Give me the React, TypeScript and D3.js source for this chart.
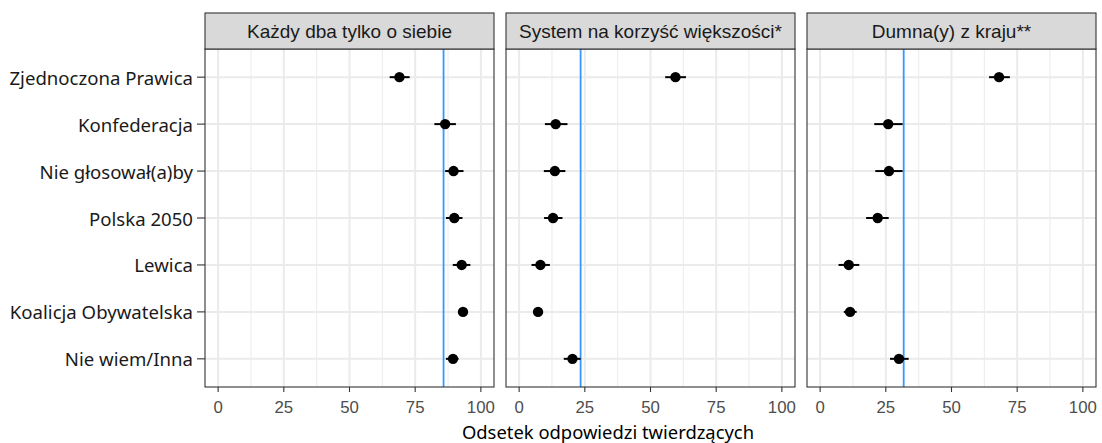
import React from "react";
import * as d3 from "d3";

// categories, top to bottom
const parties = [
  "Zjednoczona Prawica",
  "Konfederacja",
  "Nie głosował(a)by",
  "Polska 2050",
  "Lewica",
  "Koalicja Obywatelska",
  "Nie wiem/Inna",
];

const facets = ["Każdy dba tylko o siebie", "System na korzyść większości*", "Dumna(y) z kraju**"];

// estimate, lower, upper per party, one array per facet
const kazdyEst = [69.0, 86.4, 89.6, 89.9, 92.7, 93.2, 89.4];
const kazdyLo = [65.3, 82.3, 86.4, 86.7, 89.3, 91.8, 86.7];
const kazdyHi = [72.9, 90.5, 93.4, 93.0, 96.0, 94.6, 91.5];

const systemEst = [59.5, 13.9, 13.6, 12.9, 8.1, 7.2, 20.3];
const systemLo = [55.6, 9.8, 9.4, 9.5, 4.7, 5.8, 17.0];
const systemHi = [63.5, 18.4, 17.6, 16.5, 11.7, 8.6, 23.4];

const dumnaEst = [68.1, 25.9, 26.2, 21.9, 10.9, 11.4, 30.0];
const dumnaLo = [64.3, 20.6, 21.0, 17.5, 7.0, 9.0, 26.6];
const dumnaHi = [72.2, 31.4, 31.4, 26.1, 14.9, 13.9, 33.7];

// overall average (blue reference line) per facet
const refLines = [85.8, 23.4, 31.8];

const xTicks = [0, 25, 50, 75, 100];
const xMinor = [12.5, 37.5, 62.5, 87.5];

const seriesEst = [kazdyEst, systemEst, dumnaEst];
const seriesLo = [kazdyLo, systemLo, dumnaLo];
const seriesHi = [kazdyHi, systemHi, dumnaHi];

export default function App() {
  const W = 1102;
  const H = 443;
  const panelLeft = [205, 506, 807];
  const panelW = 289;
  const stripTop = 13;
  const stripBottom = 49;
  const panelBottom = 387;

  const y = d3
    .scalePoint<string>()
    .domain(parties)
    .range([stripBottom, panelBottom])
    .padding(0.6);

  const labelFont = "'Noto Sans', sans-serif";
  const tickFont = "'Liberation Sans', Arial, sans-serif";

  return (
    <svg width={W} height={H} style={{ position: "absolute", left: 0, top: 0 }}>
      <rect width={W} height={H} fill="#fff" />
      {/* y axis labels */}
      {parties.map((p) => (
        <g key={p}>
          <text
            x={193}
            y={y(p)}
            textAnchor="end"
            dominantBaseline="central"
            fontFamily={labelFont}
            fontSize={18.6}
            fill="#1a1a1a"
          >
            {p}
          </text>
          <line x1={197} x2={205} y1={y(p)} y2={y(p)} stroke="#333" strokeWidth={1.1} />
        </g>
      ))}
      {facets.map((f, i) => {
        const left = panelLeft[i];
        const x = d3.scaleLinear().domain([-5, 105]).range([left, left + panelW]);
        const est = seriesEst[i];
        const lo = seriesLo[i];
        const hi = seriesHi[i];
        return (
          <g key={f}>
            {/* grid */}
            {xMinor.map((t) => (
              <line key={"m" + t} x1={x(t)} x2={x(t)} y1={stripBottom} y2={panelBottom} stroke="#ebebeb" strokeWidth={1} />
            ))}
            {xTicks.map((t) => (
              <line key={"M" + t} x1={x(t)} x2={x(t)} y1={stripBottom} y2={panelBottom} stroke="#ebebeb" strokeWidth={2} />
            ))}
            {parties.map((p) => (
              <line key={"h" + p} x1={left} x2={left + panelW} y1={y(p)} y2={y(p)} stroke="#ebebeb" strokeWidth={2} />
            ))}
            {/* reference line */}
            <line
              x1={x(refLines[i])}
              x2={x(refLines[i])}
              y1={stripBottom}
              y2={panelBottom}
              stroke="#3399ff"
              strokeWidth={1.8}
            />
            {/* error bars and points */}
            {parties.map((p, j) => (
              <g key={"d" + p}>
                <line x1={x(lo[j])} x2={x(hi[j])} y1={y(p)} y2={y(p)} stroke="#000" strokeWidth={2} />
                <circle cx={x(est[j])} cy={y(p)} r={5.2} fill="#000" />
              </g>
            ))}
            {/* panel border */}
            <rect
              x={left}
              y={stripBottom}
              width={panelW}
              height={panelBottom - stripBottom}
              fill="none"
              stroke="#333"
              strokeWidth={1.1}
            />
            {/* strip */}
            <rect
              x={left}
              y={stripTop}
              width={panelW}
              height={stripBottom - stripTop}
              fill="#d9d9d9"
              stroke="#333"
              strokeWidth={1.1}
            />
            <text
              x={left + panelW / 2}
              y={(stripTop + stripBottom) / 2}
              textAnchor="middle"
              dominantBaseline="central"
              fontFamily={tickFont}
              fontSize={19}
              fill="#1a1a1a"
            >
              {f}
            </text>
            {/* x axis */}
            {xTicks.map((t) => (
              <g key={"t" + t}>
                <line x1={x(t)} x2={x(t)} y1={panelBottom} y2={panelBottom + 5} stroke="#333" strokeWidth={1.1} />
                <text
                  x={x(t)}
                  y={panelBottom + 20}
                  textAnchor="middle"
                  dominantBaseline="central"
                  fontFamily={tickFont}
                  fontSize={16.8}
                  fill="#4d4d4d"
                >
                  {t}
                </text>
              </g>
            ))}
          </g>
        );
      })}
      <text
        x={608}
        y={439}
        textAnchor="middle"
        fontFamily={labelFont}
        fontSize={18.4}
        fill="#000"
      >
        Odsetek odpowiedzi twierdzących
      </text>
    </svg>
  );
}
